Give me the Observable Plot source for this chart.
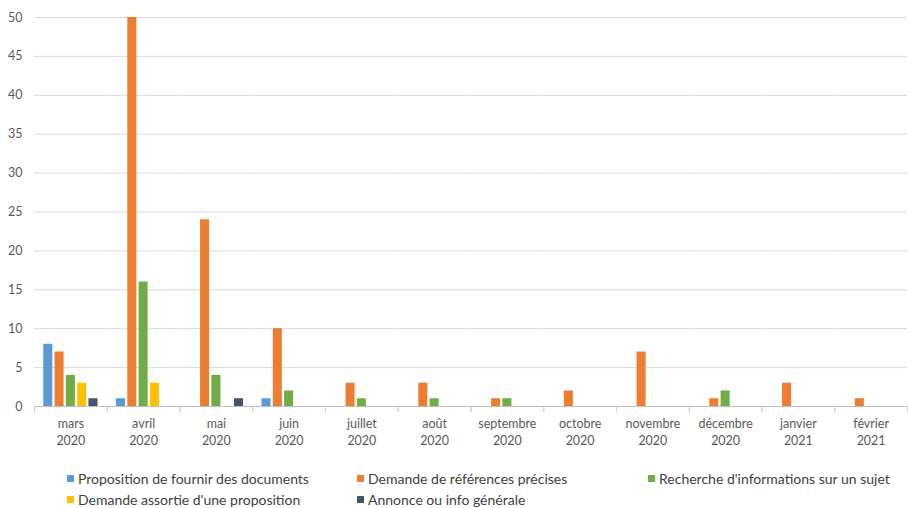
<!DOCTYPE html>
<html>
<head>
<meta charset="utf-8">
<script src="https://cdn.jsdelivr.net/npm/d3@7"></script>
<script src="https://cdn.jsdelivr.net/npm/@observablehq/plot@0.6"></script>
<style>
  html, body { margin: 0; padding: 0; background: #fff; }
  body { width: 908px; height: 508px; overflow: hidden; font-family: Lato, "Open Sans", sans-serif; }
  #legend { position: relative; height: 53px; font-size: 14px; color: #404040; }
  .item { position: absolute; display: flex; align-items: center; white-space: nowrap; }
  .sw { width: 7px; height: 7px; margin-right: 4px; }
</style>
</head>
<body>
<div id="chart"></div>
<div id="legend"></div>
<script>
const months = ["mars", "avril", "mai", "juin", "juillet", "août", "septembre", "octobre", "novembre", "décembre", "janvier", "février"];
const years = ["2020", "2020", "2020", "2020", "2020", "2020", "2020", "2020", "2020", "2020", "2021", "2021"];
const series = [
  "Proposition de fournir des documents",
  "Demande de références précises",
  "Recherche d'informations sur un sujet",
  "Demande assortie d'une proposition",
  "Annonce ou info générale"
];
const colors = ["#5b9bd5", "#ed7d31", "#70ad47", "#ffc000", "#44546a"];
const proposition = [8, 1, 0, 1, 0, 0, 0, 0, 0, 0, 0, 0];
const references  = [7, 50, 24, 10, 3, 3, 1, 2, 7, 1, 3, 1];
const recherche   = [4, 16, 4, 2, 1, 1, 1, 0, 0, 2, 0, 0];
const assortie    = [3, 3, 0, 0, 0, 0, 0, 0, 0, 0, 0, 0];
const annonce     = [1, 0, 1, 0, 0, 0, 0, 0, 0, 0, 0, 0];
const yTicks = [0, 5, 10, 15, 20, 25, 30, 35, 40, 45, 50];

const labels = months.map((m, i) => `${m}\n${years[i]}`);
const valueArrays = [proposition, references, recherche, assortie, annonce];
const data = [];
valueArrays.forEach((arr, s) => arr.forEach((v, i) => {
  if (v > 0) data.push({month: labels[i], series: series[s], value: v});
}));

const H = 455, mTop = 17, mBottom = 49;
const chart = Plot.plot({
  width: 908,
  height: H,
  marginLeft: 34,
  marginRight: 1,
  marginTop: mTop,
  marginBottom: mBottom,
  style: {fontFamily: "Lato, 'Open Sans', sans-serif", color: "#595959", background: "#fff"},
  fx: {domain: labels, padding: 0, round: false, label: null},
  x: {domain: series, paddingInner: 0.2, paddingOuter: 0.82, round: false, axis: null},
  y: {domain: [0, 50], label: null},
  color: {domain: series, range: colors},
  marks: [
    Plot.gridY(yTicks, {stroke: "#d9d9d9", strokeOpacity: 1}),
    Plot.axisY(yTicks, {tickSize: 0, tickPadding: 12, fontSize: 12.5, label: null, fill: "#595959"}),
    Plot.ruleY([0], {stroke: "#bfbfbf"}),
    Plot.frame({anchor: "left", stroke: "#d0d0d0", insetTop: H - mTop - mBottom, insetBottom: -5}),
    Plot.frame({anchor: "right", stroke: "#d0d0d0", insetTop: H - mTop - mBottom, insetBottom: -5}),
    Plot.barY(data, {fx: "month", x: "series", y: "value", fill: "series"}),
    Plot.axisFx({anchor: "bottom", tickSize: 0, tickPadding: 10, fontSize: 12.5, lineHeight: 1.35, label: null, fill: "#595959"})
  ]
});
document.getElementById("chart").appendChild(chart);

const legend = document.getElementById("legend");
const pos = [[67, 24], [357, 24], [648, 24], [67, 45], [357, 45]];
series.forEach((s, i) => {
  const el = document.createElement("div");
  el.className = "item";
  el.style.left = pos[i][0] + "px";
  el.style.top = (pos[i][1] - 9) + "px";
  el.innerHTML = `<span class="sw" style="background:${colors[i]}"></span><span>${s}</span>`;
  legend.appendChild(el);
});
</script>
</body>
</html>
